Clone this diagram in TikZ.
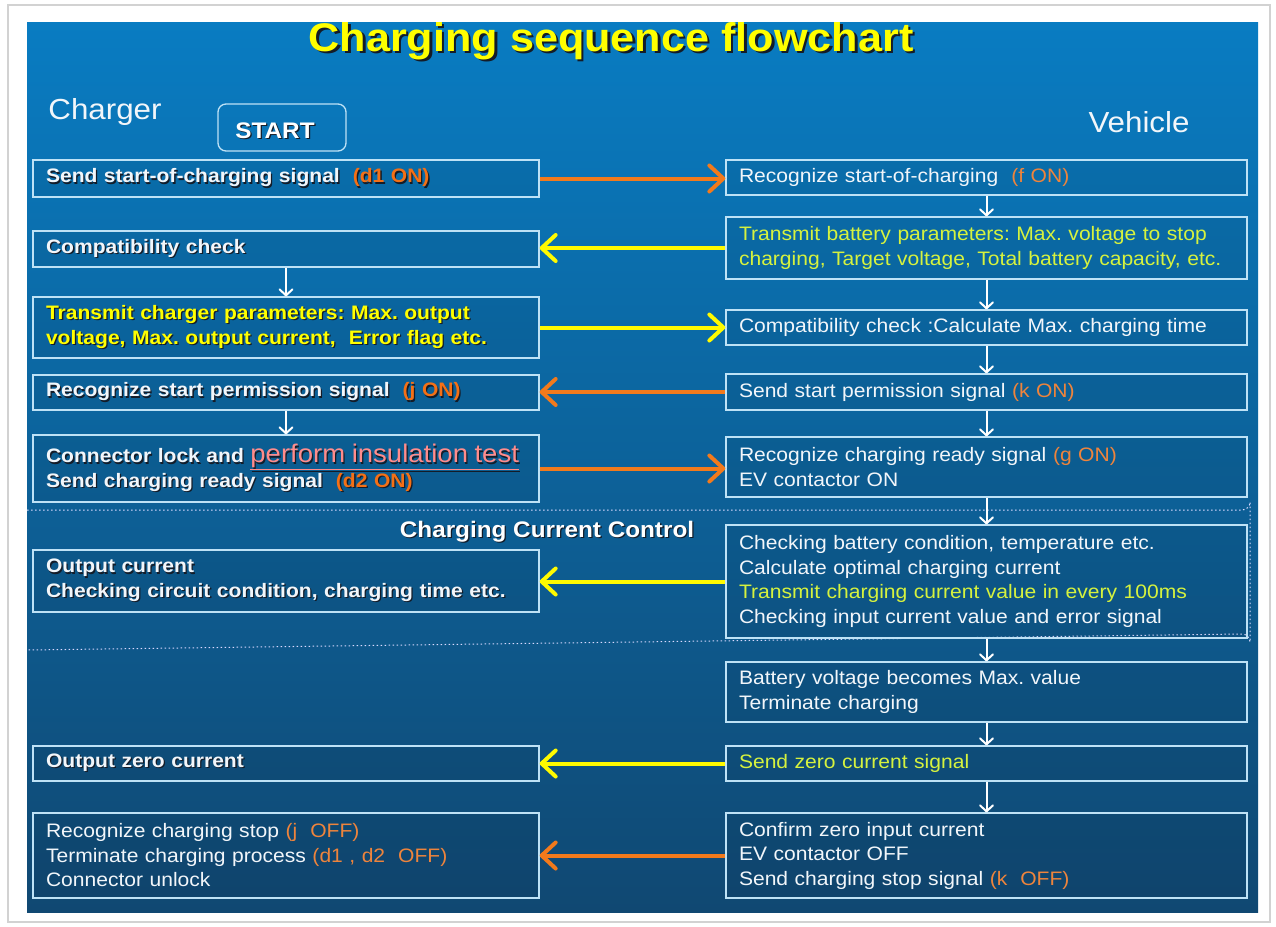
\documentclass[tikz,border=0pt]{standalone}
\usepackage{fontspec}
\setmainfont{Liberation Sans}[FakeStretch=1.08]
\usetikzlibrary{arrows.meta}
\definecolor{boxline}{RGB}{190,226,246}
\definecolor{txtw}{RGB}{242,246,250}
\definecolor{arrO}{RGB}{242,122,28}
\definecolor{arrY}{RGB}{255,250,0}
\definecolor{orB}{RGB}{244,112,22}
\definecolor{orR}{RGB}{238,132,60}
\definecolor{ylw}{RGB}{255,255,0}
\definecolor{ygr}{RGB}{214,242,62}
\definecolor{pnk}{RGB}{255,140,140}
\definecolor{shadowc}{RGB}{20,28,40}
\definecolor{slideTop}{RGB}{9,124,194}
\definecolor{slideMid}{RGB}{16,104,168}
\definecolor{slideBot}{RGB}{16,72,114}
\newif\ifshd
\newcommand\shd[2][1.3pt]{\makebox[0pt][l]{\shdtrue\kern#1\raisebox{-#1}{\color{shadowc}#2}}#2}
\newcommand\tc[2]{\ifshd#2\else\textcolor{#1}{#2}\fi}
\frenchspacing
\begin{document}
\begin{tikzpicture}[x=1pt,y=-1pt,
  box/.style={draw=boxline, line width=1.3pt, fill=black, fill opacity=0.06, text opacity=1,
    inner xsep=13pt, inner ysep=0pt, align=left, text=txtw},
  lbox/.style={box, text width=480pt, font=\bfseries\fontsize{19.5}{24.5}\selectfont},
  lboxr/.style={box, text width=480pt, font=\fontsize{19.5}{24.5}\selectfont},
  rbox/.style={box, text width=495pt, font=\fontsize{19.5}{24.5}\selectfont},
  oarrow/.style={draw=arrO, line width=4pt, -{Straight Barb[length=14pt,width=26pt,round]}},
  yarrow/.style={draw=arrY, line width=4pt, -{Straight Barb[length=14pt,width=26pt,round]}},
  darrow/.style={draw=white, line width=2pt, -{Straight Barb[length=6pt,width=13pt,round]}},
  lbl/.style={text=txtw, inner sep=0pt}
]
% page and slide
\fill[white] (0,0) rectangle (1276,926);
\draw[gray!35, line width=1.5pt] (8,5) rectangle (1270,922);
\shade[top color=slideTop, middle color=slideMid, bottom color=slideBot] (27,22) rectangle (1258,912);

% charging current control region
\draw[white!85!blue, line width=1pt, dash pattern=on 1.5pt off 2.5pt]
  (27,510) -- (1242,510) arc[start angle=90, end angle=0, radius=8] -- (1250,642)
  arc[start angle=0, end angle=-90, radius=8] -- (27,650);

% title
\begin{scope}
\clip (27,22) rectangle (1258,912);
\node[anchor=base, inner sep=0pt, text=ylw, font=\bfseries\fontsize{40}{46}\selectfont] (title) at (611,51)
  {\shd[2.5pt]{Charging sequence flowchart}};
\end{scope}

\node[lbl, font=\fontsize{29}{34}\selectfont] (charger) at (105,112) {Charger};
\node[lbl, font=\fontsize{29}{34}\selectfont] (vehicle) at (1139,122) {Vehicle};
\node[draw=boxline, line width=1.3pt, rounded corners=8pt, minimum width=128pt, minimum height=47pt,
  inner sep=0pt] (start) at (282,127.5) {};
\node[lbl, text=white, font=\bfseries\fontsize{22.5}{24}\selectfont] (starttxt) at (275,131) {\shd{START}};
\node[lbl, text=white, font=\bfseries\fontsize{22.5}{24}\selectfont] (ccc) at (547,532) {\shd{Charging Current Control}};

% left column
\node[lbox, minimum height=37pt] (l1) at (286,178.5) {\shd{Send start-of-charging signal\ \ \tc{orB}{(d1 ON)}}};
\node[lbox, minimum height=36pt] (l2) at (286,249) {\shd{Compatibility check}};
\node[lbox, minimum height=61pt] (l3) at (286,327.5) {\shd{\tc{ylw}{Transmit charger parameters: Max. output}}\\\shd{\tc{ylw}{voltage, Max. output current,\ \ Error flag etc.}}};
\node[lbox, minimum height=35pt] (l4) at (286,392.5) {\shd{Recognize start permission signal\ \ \tc{orB}{(j ON)}}};
\node[lbox, minimum height=67pt] (l5) at (286,468.5) {\shd{Connector lock and \tc{pnk}{{\mdseries\fontsize{25.5}{26}\selectfont\underline{perform insulation test}}}}\\\shd{Send charging ready signal\ \ \tc{orB}{(d2 ON)}}};
\node[lbox, minimum height=62pt] (l6) at (286,581) {\shd{Output current}\\\shd{Checking circuit condition, charging time etc.}};
\node[lbox, minimum height=35pt] (l8) at (286,763.5) {\shd{Output zero current}};
\node[lboxr, minimum height=85pt] (l9) at (286,855.5) {Recognize charging stop \textcolor{orR}{(j\ \ OFF)}\\Terminate charging process \textcolor{orR}{(d1 , d2\ \ OFF)}\\Connector unlock};

% right column
\node[rbox, minimum height=35pt] (r1) at (986.5,177.5) {Recognize start-of-charging\ \ \textcolor{orR}{(f ON)}};
\node[rbox, minimum height=62pt, text=ygr] (r2) at (986.5,248) {Transmit battery parameters: Max. voltage to stop\\charging, Target voltage, Total battery capacity, etc.};
\node[rbox, minimum height=35pt] (r3) at (986.5,327.5) {Compatibility check :Calculate Max. charging time};
\node[rbox, minimum height=36pt] (r4) at (986.5,392) {Send start permission signal \textcolor{orR}{(k ON)}};
\node[rbox, minimum height=60pt] (r5) at (986.5,467) {Recognize charging ready signal \textcolor{orR}{(g ON)}\\EV contactor ON};
\node[rbox, minimum height=113pt] (r6) at (986.5,581.5) {Checking battery condition, temperature etc.\\Calculate optimal charging current\\\textcolor{ygr}{Transmit charging current value in every 100ms}\\Checking input current value and error signal};
\node[rbox, minimum height=60pt] (r7) at (986.5,692) {Battery voltage becomes Max. value\\Terminate charging};
\node[rbox, minimum height=35pt, text=ygr] (r8) at (986.5,763.5) {Send zero current signal};
\node[rbox, minimum height=85pt] (r9) at (986.5,855.5) {Confirm zero input current\\EV contactor OFF\\Send charging stop signal \textcolor{orR}{(k\ \ OFF)}};

% horizontal arrows
\draw[oarrow] (l1.east) -- (l1.east -| r1.west);
\draw[yarrow] (r2.west) -- (r2.west -| l2.east);
\draw[yarrow] (l3.east) -- (l3.east -| r3.west);
\draw[oarrow] (r4.west) -- (r4.west -| l4.east);
\draw[oarrow] (l5.east) -- (l5.east -| r5.west);
\draw[yarrow] (r6.west) -- (r6.west -| l6.east);
\draw[yarrow] (r8.west) -- (r8.west -| l8.east);
\draw[oarrow] (r9.west) -- (r9.west -| l9.east);

% vertical arrows
\draw[darrow] (l2.south) -- (l3.north);
\draw[darrow] (l4.south) -- (l5.north);
\draw[darrow] (r1.south) -- (r2.north);
\draw[darrow] (r2.south) -- (r3.north);
\draw[darrow] (r3.south) -- (r4.north);
\draw[darrow] (r4.south) -- (r5.north);
\draw[darrow] (r5.south) -- (r6.north);
\draw[darrow] (r6.south) -- (r7.north);
\draw[darrow] (r7.south) -- (r8.north);
\draw[darrow] (r8.south) -- (r9.north);
\end{tikzpicture}
\end{document}
